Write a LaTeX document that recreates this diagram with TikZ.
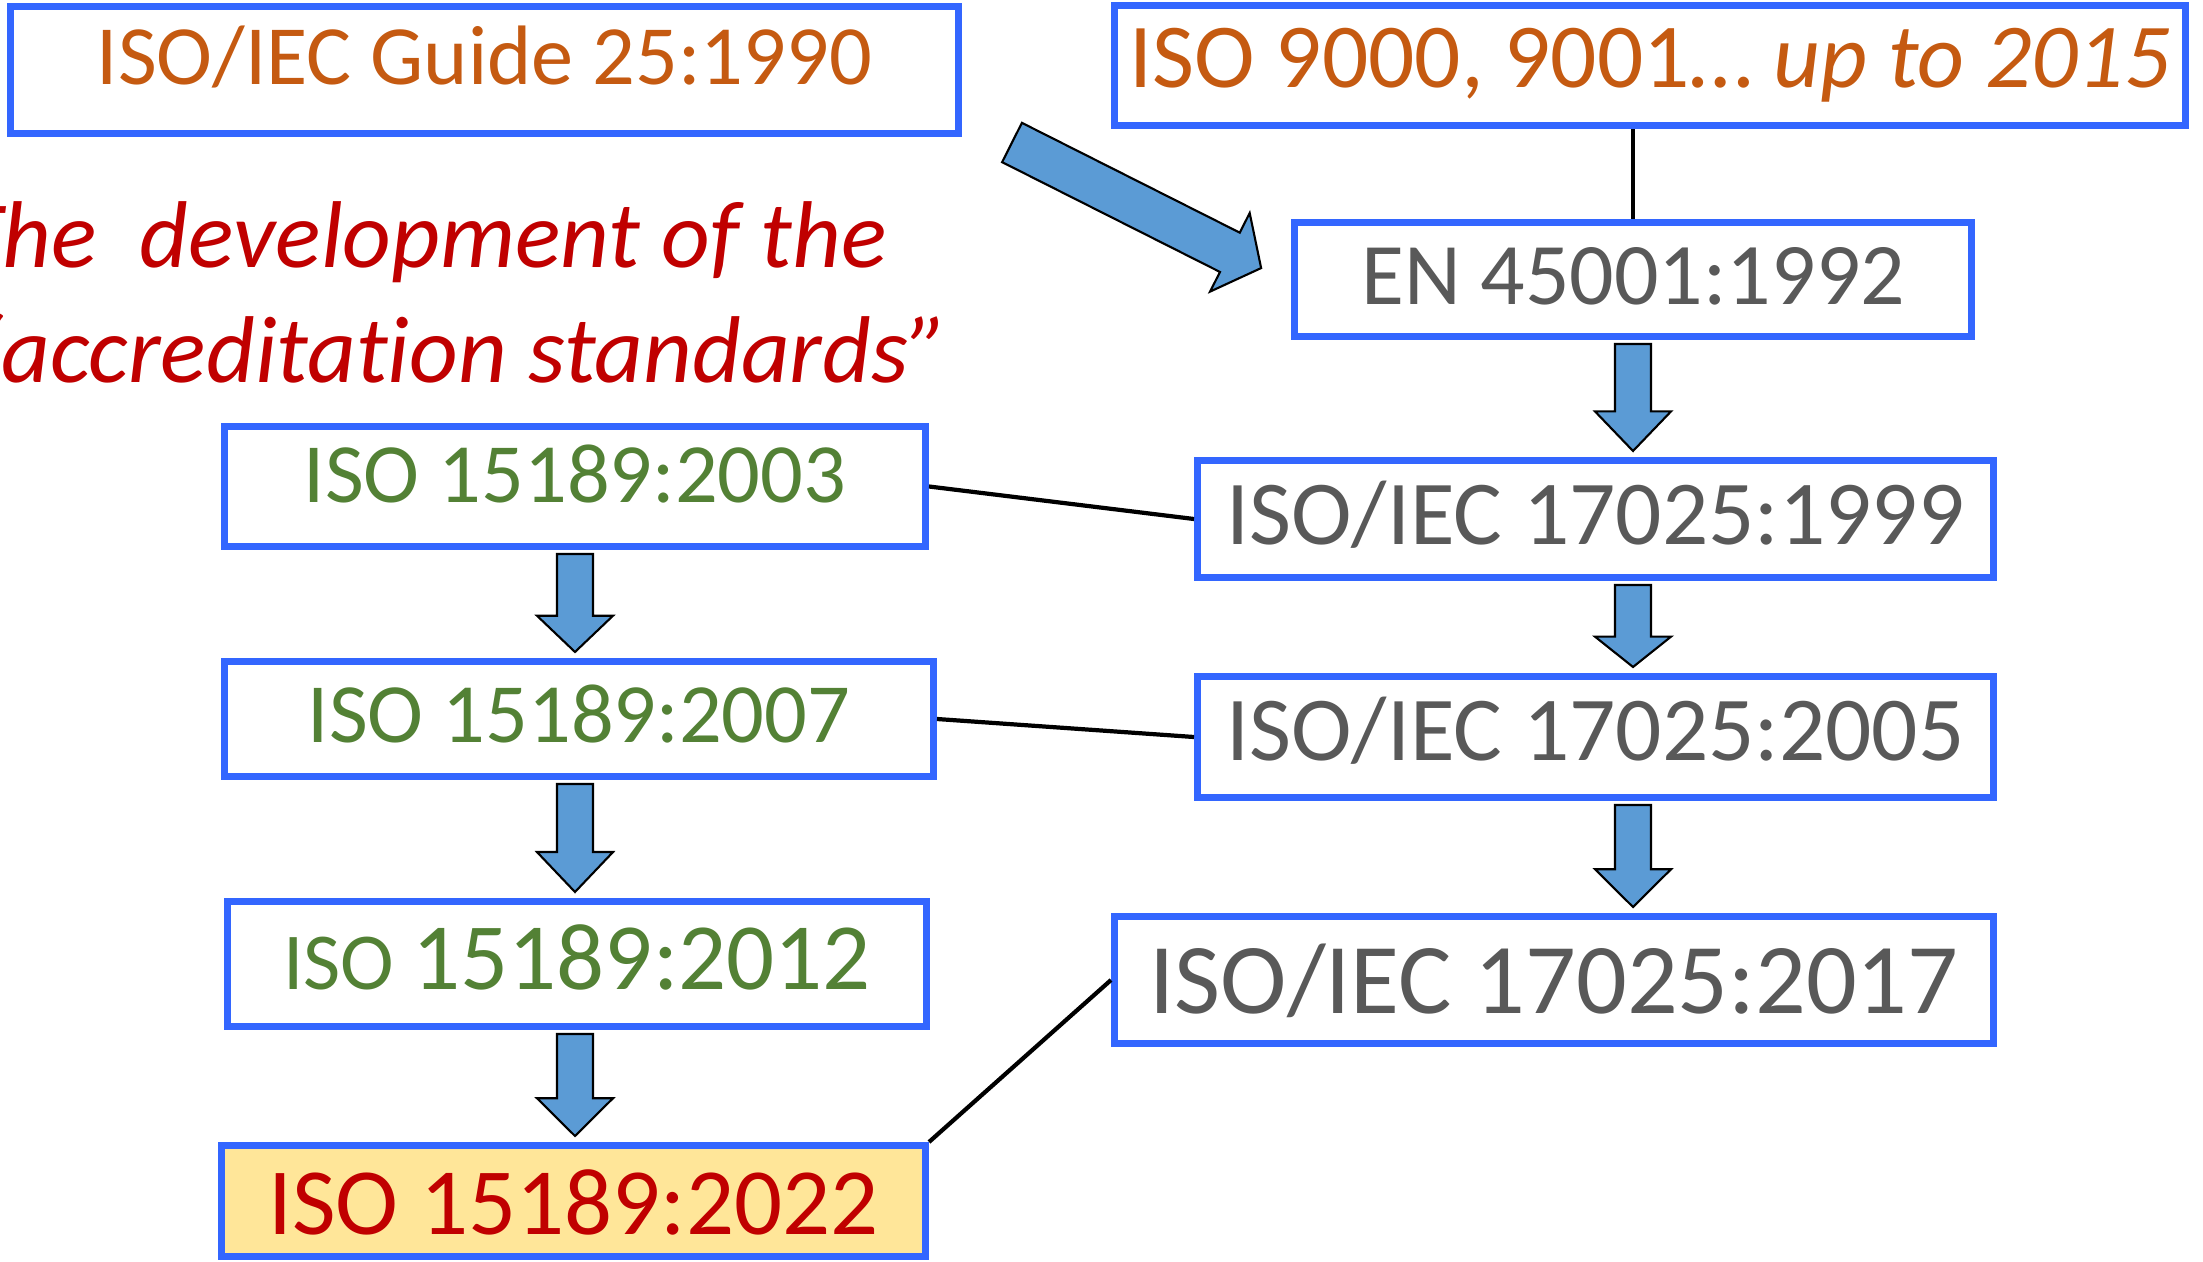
\documentclass[tikz,border=0pt]{standalone}
\usepackage{fontspec}
\setmainfont{Carlito}[Ligatures=CommonOff]
\usetikzlibrary{calc}

\definecolor{boxblue}{HTML}{3366FF}
\definecolor{arrowblue}{HTML}{5B9BD5}
\definecolor{isoorange}{HTML}{C55A11}
\definecolor{isogray}{HTML}{595959}
\definecolor{isogreen}{HTML}{538135}
\definecolor{isored}{HTML}{C00000}
\definecolor{isoyellow}{HTML}{FFE699}

\newcommand{\pts}[1]{\fontsize{#1}{#1}\selectfont}

% block arrow pointing down from box #1 to box #2, on the vertical of node #3
\newcommand{\blkarrow}[3]{%
  \path ($(#1.south -| #3)+(0,-0.04)$) coordinate (tl)
        ($(#2.north -| #3)+(0,0.06)$) coordinate (tp)
        ($(tl)!0.63!(tp)$) coordinate (hb);
  \draw[blkarrow] ($(tl)+(-0.18,0)$) -- ($(hb)+(-0.18,0)$) -- ($(hb)+(-0.38,0)$) -- (tp)
    -- ($(hb)+(0.38,0)$) -- ($(hb)+(0.18,0)$) -- ($(tl)+(0.18,0)$) -- cycle;}

\tikzset{
  stdbox/.style={draw=boxblue,line width=2pt,fill=white,inner sep=0pt,align=center,text depth=0pt},
  blkarrow/.style={draw=black,line width=0.6pt,fill=arrowblue,line join=miter},
  link/.style={draw=black,line width=1.2pt},
  title/.style={inner sep=0pt,text=isored,font=\pts{27pt}\itshape}
}

\begin{document}
\begin{tikzpicture}

\useasboundingbox (0,0) rectangle (22.03,-12.62);

\node[stdbox,minimum width=9.48cm,minimum height=1.27cm,text height=0.30cm,text=isoorange,font=\pts{24pt}]
  (guide) at (4.845,-0.70) {ISO/IEC Guide 25:1990};
\node[stdbox,minimum width=10.71cm,minimum height=1.20cm,text height=0.45cm,text=isoorange,font=\pts{26pt}]
  (iso9000) at (16.50,-0.655) {ISO 9000, 9001… \textit{up to 2015}};

\node[title,anchor=base west] (title1) at (-0.88,-2.68) {“The\ \ development of the};
\node[title,anchor=base west] (title2) at (-0.36,-3.83) {“accreditation standards”};

\node[stdbox,minimum width=6.77cm,minimum height=1.14cm,text height=0.51cm,text=isogray,font=\pts{25pt}]
  (en) at (16.33,-2.795) {EN 45001:1992};
\node[stdbox,minimum width=7.96cm,minimum height=1.17cm,text height=0.50cm,text=isogray,font=\pts{26pt}]
  (iec1999) at (15.955,-5.19) {ISO/IEC 17025:1999};
\node[stdbox,minimum width=7.96cm,minimum height=1.21cm,text height=0.46cm,text=isogray,font=\pts{26pt}]
  (iec2005) at (15.955,-7.37) {ISO/IEC 17025:2005};
\node[stdbox,minimum width=8.79cm,minimum height=1.27cm,text height=0.66cm,text=isogray,font=\pts{28.5pt}]
  (iec2017) at (15.54,-9.80) {ISO/IEC 17025:2017};

\node[stdbox,minimum width=7.01cm,minimum height=1.20cm,text height=0.31cm,text=isogreen,font=\pts{24pt}]
  (med2003) at (5.75,-4.865) {ISO 15189:2003};
\node[stdbox,minimum width=7.09cm,minimum height=1.15cm,text height=0.46cm,text=isogreen,font=\pts{24pt}]
  (med2007) at (5.79,-7.19) {ISO 15189:2007};
\node[stdbox,minimum width=6.99cm,minimum height=1.25cm,text height=0.50cm,text=isogreen,font=\pts{27pt}]
  (med2012) at (5.77,-9.64) {{\pts{23pt}ISO }15189:2012};
\node[stdbox,minimum width=7.04cm,minimum height=1.11cm,text height=0.66cm,fill=isoyellow,text=isored,font=\pts{27pt}]
  (med2022) at (5.735,-12.01) {ISO 15189:2022};

% big arrow from the guide to EN 45001
\begin{scope}[shift={(10.12,-1.425)},rotate=-26.75]
\draw[blkarrow] (0,0.22) -- (2.44,0.22) -- (2.44,0.44) -- (2.79,0)
  -- (2.44,-0.44) -- (2.44,-0.22) -- (0,-0.22) -- cycle;
\end{scope}

\draw[link] (iso9000.south -| en.north) -- (en.north);
\draw[link] (med2003.east) -- (iec1999.west);
\draw[link] (med2007.east) -- (iec2005.west);
\draw[link] (med2022.north east) -- (iec2017.west);

\blkarrow{en}{iec1999}{en}
\blkarrow{iec1999}{iec2005}{en}
\blkarrow{iec2005}{iec2017}{en}
\blkarrow{med2003}{med2007}{med2003}
\blkarrow{med2007}{med2012}{med2003}
\blkarrow{med2012}{med2022}{med2003}

\end{tikzpicture}
\end{document}
